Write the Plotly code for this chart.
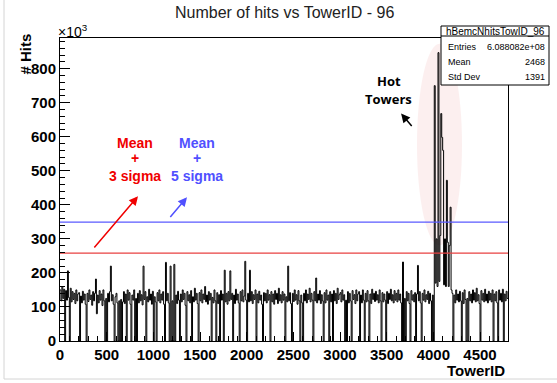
import plotly.graph_objects as go

# ---------------- data ----------------
BIN_WIDTH = 10          # towers per bin
N_TOWERS = 4800
# hits per 10-tower bin (units of 10^3)
hits = [
    150, 118, 160, 125, 152, 0, 148, 120, 206, 128, 0, 155, 115, 145, 122, 140, 110, 150, 118, 138,
    142, 0, 132, 112, 146, 120, 138, 108, 0, 140, 116, 150, 122, 135, 105, 145, 118, 140, 182, 80,
    135, 112, 148, 120, 138, 104, 150, 118, 0, 125, 0, 140, 115, 145, 220, 118, 136, 108, 0, 130,
    140, 112, 0, 118, 0, 122, 0, 115, 145, 110, 138, 0, 150, 120, 142, 108, 0, 135, 120, 150,
    0, 125, 0, 140, 112, 148, 118, 136, 106, 220, 122, 145, 0, 130, 115, 152, 120, 138, 108, 146,
    0, 130, 115, 0, 142, 118, 150, 112, 138, 120, 145, 108, 0, 231, 118, 140, 112, 0, 220, 0,
    118, 0, 225, 0, 135, 110, 146, 120, 0, 138, 115, 150, 122, 140, 105, 0, 145, 118, 136, 112,
    148, 0, 130, 115, 155, 120, 140, 110, 0, 142, 118, 150, 112, 138, 122, 160, 115, 135, 108, 145,
    120, 140, 0, 128, 112, 150, 118, 0, 142, 110, 136, 0, 148, 120, 138, 0, 208, 115, 140, 108,
    145, 118, 206, 122, 140, 0, 135, 110, 152, 120, 138, 112, 0, 145, 118, 150, 115, 132, 234, 120,
    0, 140, 115, 208, 118, 145, 110, 136, 122, 150, 0, 138, 112, 146, 120, 135, 108, 0, 142, 118,
    140, 112, 150, 120, 136, 0, 145, 115, 138, 108, 148, 122, 140, 110, 155, 118, 136, 112, 145, 120,
    138, 0, 130, 115, 220, 118, 142, 110, 0, 140, 116, 150, 120, 136, 108, 148, 118, 0, 135, 112,
    0, 140, 118, 150, 112, 138, 122, 155, 115, 140, 120, 0, 145, 118, 185, 112, 138, 120, 148, 110,
    136, 118, 0, 142, 112, 150, 120, 135, 0, 145, 115, 138, 0, 148, 118, 140, 110, 155, 122, 136,
    142, 115, 150, 120, 136, 0, 120, 0, 145, 112, 140, 118, 0, 148, 122, 136, 110, 150, 118, 138,
    145, 0, 135, 112, 150, 120, 0, 140, 115, 148, 118, 0, 138, 110, 152, 122, 140, 116, 146, 120,
    136, 112, 150, 118, 0, 142, 115, 138, 120, 0, 145, 110, 140, 122, 152, 118, 136, 112, 148, 120,
    140, 115, 150, 120, 138, 112, 0, 232, 0, 125, 0, 145, 118, 140, 110, 0, 148, 120, 136, 115,
    142, 0, 138, 222, 118, 145, 112, 0, 140, 120, 150, 115, 136, 122, 146, 110, 140, 118, 0, 135,
    0, 750, 170, 300, 160, 847, 175, 310, 668, 598, 560, 165, 300, 160, 472, 290, 160, 280, 393, 150,
    140, 0, 135, 112, 150, 120, 138, 115, 146, 118, 0, 142, 110, 150, 122, 0, 125, 0, 145, 118,
    138, 112, 150, 120, 142, 115, 155, 118, 136, 110, 0, 148, 120, 140, 115, 152, 118, 138, 112, 146,
    120, 140, 115, 150, 0, 138, 118, 145, 112, 0, 150, 120, 140, 115, 152, 0, 138, 118, 146, 125,
]
mean_3sigma = 258   # 10^3 hits
mean_5sigma = 349   # 10^3 hits

stat_name = "hBemcNhitsTowID_96"
stat_labels = ["Entries", "Mean", "Std Dev"]
stat_values = ["6.088082e+08", "2468", "1391"]

x_ticks = list(range(0, 5000, 500))
y_ticks = list(range(0, 900, 100))

# ---------------- geometry helpers ----------------
W, H = 557, 383
ML, MR, MT, MB = 60, 49, 38, 42
PW, PH = W - ML - MR, H - MT - MB
Y_MAX = 890


def px(xp):
    return (xp - ML) / PW


def py(yp):
    return (H - MB - yp) / PH


edges = [i * BIN_WIDTH for i in range(len(hits))] + [N_TOWERS]
vals = hits + [hits[-1]]

fig = go.Figure()
fig.add_trace(go.Scatter(
    x=edges, y=vals, mode="lines", line=dict(color="black", width=1, shape="hv"),
    hoverinfo="skip", showlegend=False))
fig.add_trace(go.Scatter(
    x=[0, N_TOWERS], y=[mean_3sigma, mean_3sigma], mode="lines",
    line=dict(color="#e84040", width=1.3), hoverinfo="skip", showlegend=False))
fig.add_trace(go.Scatter(
    x=[0, N_TOWERS], y=[mean_5sigma, mean_5sigma], mode="lines",
    line=dict(color="#5a5aff", width=1.3), hoverinfo="skip", showlegend=False))

shapes = [
    # pink ellipse around hot towers
    dict(type="circle", xref="x", yref="y", x0=3825, x1=4307, y0=281, y1=873,
         fillcolor="rgba(245,190,190,0.25)", line=dict(width=0), layer="below"),
    # stat box
    dict(type="rect", xref="paper", yref="paper", x0=px(441), x1=px(549), y0=py(85), y1=py(26),
         fillcolor="white", line=dict(color="black", width=1), layer="above"),
    dict(type="line", xref="paper", yref="paper", x0=px(441), x1=px(549), y0=py(36), y1=py(36),
         line=dict(color="black", width=1), layer="above"),
    # outer light frame
    dict(type="rect", xref="paper", yref="paper", x0=px(4), x1=px(562), y0=py(379), y1=py(-5),
         line=dict(color="#d4d4d4", width=1), fillcolor="rgba(0,0,0,0)", layer="above"),
]

ann = []
# title
ann.append(dict(text="Number of hits vs TowerID - 96", xref="paper", yref="paper",
                x=px(284), y=py(12), showarrow=False, xanchor="center", yanchor="middle",
                font=dict(family="Liberation Sans", size=16, color="#222")))
# axis titles
ann.append(dict(text="#\u00a0Hits", xref="paper", yref="paper", x=px(25), y=py(32),
                showarrow=False, textangle=-90, xanchor="center", yanchor="top",
                font=dict(family="Liberation Sans", size=15, color="black", weight="bold")))
ann.append(dict(text="TowerID", xref="paper", yref="paper", x=px(507), y=py(370),
                showarrow=False, xanchor="right", yanchor="middle",
                font=dict(family="Liberation Sans", size=15, color="black", weight="bold")))
ann.append(dict(text="×10<sup>3</sup>", xref="paper", yref="paper", x=px(56), y=py(31),
                showarrow=False, xanchor="left", yanchor="middle",
                font=dict(family="Liberation Sans", size=14, color="black")))
# stat box texts
ann.append(dict(text=stat_name, xref="paper", yref="paper", x=px(495), y=py(31),
                showarrow=False, xanchor="center", yanchor="middle",
                font=dict(family="Liberation Sans", size=10, color="black")))
for i, (lab, val) in enumerate(zip(stat_labels, stat_values)):
    yy = py(47 + 15 * i)
    ann.append(dict(text=lab, xref="paper", yref="paper", x=px(446), y=yy, showarrow=False,
                    xanchor="left", yanchor="middle",
                    font=dict(family="Liberation Sans", size=9, color="black")))
    ann.append(dict(text=val, xref="paper", yref="paper", x=px(547), y=yy, showarrow=False,
                    xanchor="right", yanchor="middle",
                    font=dict(family="Liberation Sans", size=9, color="black")))
# sigma labels
for txt, cx, col in [("3 sigma", 135, "#f00000"), ("5 sigma", 197, "#5050ff")]:
    for t, yy in [("Mean", 143), ("+", 158), (txt, 176)]:
        ann.append(dict(text=t, xref="paper", yref="paper", x=px(cx), y=py(yy), showarrow=False,
                        xanchor="center", yanchor="middle",
                        font=dict(family="Liberation Sans", size=14, color=col, weight="bold")))
# hot towers label
ann.append(dict(text="Hot", xref="paper", yref="paper", x=px(389), y=py(81), showarrow=False,
                xanchor="center", yanchor="middle",
                font=dict(family="Open Sans", size=13, color="black", weight="bold")))
ann.append(dict(text="Towers", xref="paper", yref="paper", x=px(388), y=py(99), showarrow=False,
                xanchor="center", yanchor="middle",
                font=dict(family="Open Sans", size=13, color="black", weight="bold")))
# arrows (data coordinates)
for (x0, y0, x1, y1, col) in [(354, 270, 836, 425, "#f00000"),
                              (1168, 360, 1361, 422, "#5050ff"),
                              (3782, 627, 3654, 668, "black")]:
    ann.append(dict(x=x1, y=y1, ax=x0, ay=y0, xref="x", yref="y", axref="x", ayref="y",
                    showarrow=True, arrowhead=2, arrowsize=1.2, arrowwidth=1.5,
                    arrowcolor=col, text=""))

fig.update_layout(
    width=W, height=H, margin=dict(l=ML, r=MR, t=MT, b=MB),
    paper_bgcolor="white", plot_bgcolor="white",
    shapes=shapes, annotations=ann, showlegend=False,
    xaxis=dict(range=[0, N_TOWERS], tickvals=x_ticks, ticks="inside", ticklen=9,
               tickcolor="black", showline=True, linecolor="black", linewidth=1,
               mirror=True, showgrid=False, zeroline=False,
               minor=dict(dtick=100, ticks="inside", ticklen=5, tickcolor="black"),
               tickfont=dict(family="Liberation Sans", size=15, color="black", weight="bold")),
    yaxis=dict(range=[0, Y_MAX], tickvals=y_ticks, ticks="inside", ticklen=10,
               tickcolor="black", showline=True, linecolor="black", linewidth=1,
               mirror=True, showgrid=False, zeroline=False,
               minor=dict(dtick=20, ticks="inside", ticklen=5, tickcolor="black"),
               tickfont=dict(family="Liberation Sans", size=15, color="black", weight="bold")),
)

fig.write_html("out.html")
